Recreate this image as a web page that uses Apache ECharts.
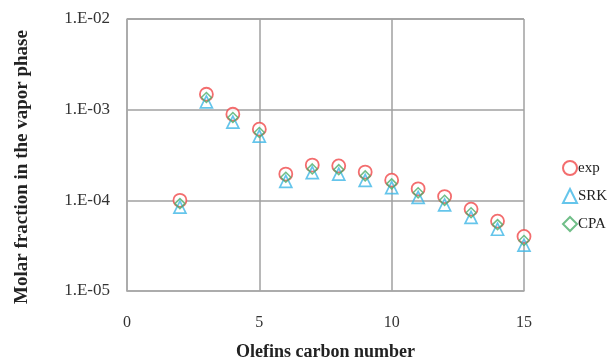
<!DOCTYPE html>
<html>
<head>
<meta charset="utf-8">
<script src="https://cdn.jsdelivr.net/npm/echarts@6/dist/echarts.min.js"></script>
<style>
html,body{margin:0;padding:0;background:#fff;}
#main{width:614px;height:363px;}
</style>
</head>
<body>
<div id="main"></div>
<script>
// olefins carbon number
var carbon = [2, 3, 4, 5, 6, 7, 8, 9, 10, 11, 12, 13, 14, 15];
// molar fraction in vapor phase
var expVals = [1.0e-4, 1.48e-3, 8.9e-4, 6.1e-4, 1.95e-4, 2.45e-4, 2.4e-4, 2.05e-4, 1.67e-4, 1.34e-4, 1.1e-4, 8.0e-5, 5.9e-5, 4.0e-5];
var srkVals = [8.4e-5, 1.22e-3, 7.3e-4, 5.1e-4, 1.62e-4, 2.02e-4, 1.95e-4, 1.66e-4, 1.38e-4, 1.08e-4, 8.9e-5, 6.5e-5, 4.8e-5, 3.2e-5];
var cpaVals = [9.2e-5, 1.36e-3, 8.2e-4, 5.6e-4, 1.8e-4, 2.22e-4, 2.18e-4, 1.86e-4, 1.52e-4, 1.21e-4, 1.0e-4, 7.3e-5, 5.4e-5, 3.6e-5];

function pairs(xs, ys) {
	var out = [];
	for (var i = 0; i < xs.length; i++) {
		out.push([xs[i], ys[i]]);
	}
	return out;
}

var font = '"Liberation Serif", "DejaVu Serif", serif';
var myChart = echarts.init(document.getElementById('main'));
var option = {
	animation: false,
	backgroundColor: '#fff',
	grid: {left: 127, right: 90, top: 19, bottom: 72, containLabel: false, outerBoundsMode: 'none'},
	legend: {
		orient: 'vertical',
		left: 557,
		top: 155,
		itemGap: 12,
		itemWidth: 14,
		itemHeight: 14,
		textStyle: {fontFamily: font, fontSize: 15, color: '#222', padding: [0, 0, 0, -4]},
		data: [
			{name: 'exp', icon: 'circle'},
			{name: 'SRK', icon: 'triangle'},
			{name: 'CPA', icon: 'diamond'}
		]
	},
	xAxis: {
		type: 'value',
		min: 0, max: 15, interval: 5,
		name: 'Olefins carbon number',
		nameLocation: 'middle',
		nameGap: 52,
		nameTextStyle: {fontFamily: font, fontSize: 18, fontWeight: 'bold', color: '#222'},
		axisLine: {show: true, lineStyle: {color: '#a8a8a8', width: 1.5}},
		axisTick: {show: false},
		axisLabel: {fontFamily: font, fontSize: 16, color: '#333', margin: 24},
		splitLine: {show: true, lineStyle: {color: '#a0a0a0', width: 1.5}}
	},
	yAxis: {
		type: 'log',
		logBase: 10,
		min: 1e-5, max: 1e-2,
		name: 'Molar fraction in the vapor phase',
		nameLocation: 'middle',
		nameGap: 95,
		nameTextStyle: {fontFamily: font, fontSize: 19, fontWeight: 'bold', color: '#222', padding: [0, 24, 0, 0]},
		axisLine: {show: true, lineStyle: {color: '#a8a8a8', width: 1.5}},
		axisTick: {show: false},
		axisLabel: {
			fontFamily: font, fontSize: 17, color: '#333', margin: 17,
			formatter: function (v) {
				var e = Math.round(Math.log(v) / Math.LN10);
				return '1.E-0' + (-e);
			}
		},
		splitLine: {show: true, lineStyle: {color: '#a0a0a0', width: 1.5}}
	},
	series: [
		{
			name: 'exp', type: 'scatter', symbol: 'circle', symbolSize: 13,
			itemStyle: {color: '#fff', borderColor: '#f0484a', borderWidth: 1.8},
			data: pairs(carbon, expVals), z: 2
		},
		{
			name: 'SRK', type: 'scatter', symbol: 'triangle', symbolSize: 12,
			itemStyle: {color: 'rgba(255,255,255,0)', borderColor: '#3fb6e6', borderWidth: 1.7},
			data: pairs(carbon, srkVals), z: 3
		},
		{
			name: 'CPA', type: 'scatter', symbol: 'diamond', symbolSize: 10,
			itemStyle: {color: 'rgba(255,255,255,0)', borderColor: '#4cae6a', borderWidth: 1.5},
			data: pairs(carbon, cpaVals), z: 4
		}
	]
};
myChart.setOption(option);
</script>
</body>
</html>
